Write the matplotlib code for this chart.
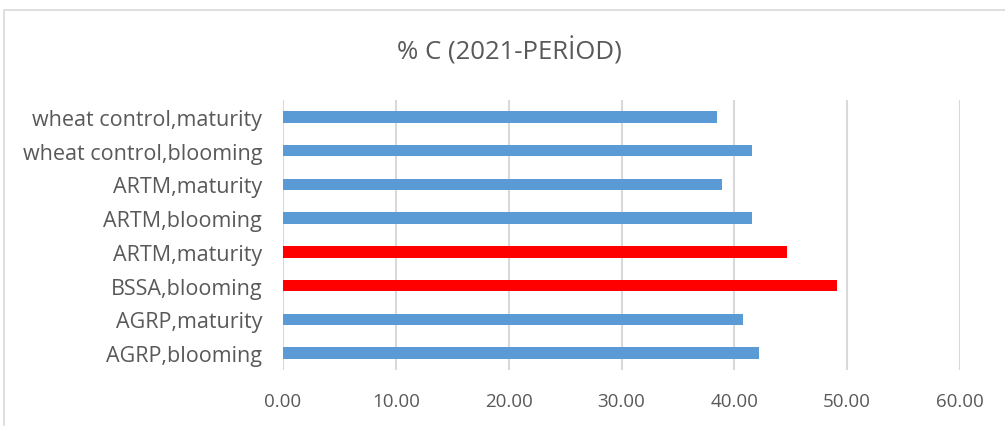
import matplotlib
matplotlib.use("Agg")
import matplotlib.pyplot as plt
from matplotlib.patches import Rectangle

# data, bottom to top
categories = ["AGRP,blooming", "AGRP,maturity", "BSSA,blooming", "ARTM,maturity",
              "ARTM,blooming", "ARTM,maturity", "wheat control,blooming",
              "wheat control,maturity"]
values = [42.2, 40.8, 49.1, 44.7, 41.6, 38.9, 41.6, 38.5]
highlight = [False, False, True, True, False, False, False, False]
xticks = [0, 10, 20, 30, 40, 50, 60]

blue = "#5B9BD5"
red = "#FF0000"
txt = "#595959"

plt.rcParams['font.family'] = ['Open Sans', 'DejaVu Sans']

fig = plt.figure(figsize=(10.05, 4.27), dpi=100)
ax = fig.add_axes([283 / 1005, 1 - 371 / 427, 677 / 1005, 270 / 427])

colors = [red if h else blue for h in highlight]
ypos = list(range(len(categories)))
ax.barh(ypos, values, height=0.34, color=colors, zorder=3)

ax.set_xlim(0, 60)
ax.set_ylim(-0.5, len(categories) - 0.5)
ax.set_xticks(xticks)
ax.set_xticklabels(["%.2f" % t for t in xticks])
ax.set_yticks(ypos)
ax.set_yticklabels(categories)
ax.tick_params(axis='both', length=0, colors=txt)
ax.tick_params(axis='x', pad=16, labelsize=13.5)
ax.tick_params(axis='y', pad=15, labelsize=15.5)
ax.grid(axis='x', color="#D9D9D9", linewidth=1.5, zorder=0)
for s in ax.spines.values():
    s.set_visible(False)

fig.text(509 / 1005, 1 - 51 / 427, "% C (2021-PERİOD)",
         ha='center', va='center', fontsize=18.5, color=txt)

# outer chart border
fig.patches.append(Rectangle((4 / 1005, -0.1), 1.2, 1 - 11 / 427 + 0.1,
                             transform=fig.transFigure, fill=False,
                             edgecolor="#D9D9D9", linewidth=1.2))

fig.savefig("out.png", dpi=100)
